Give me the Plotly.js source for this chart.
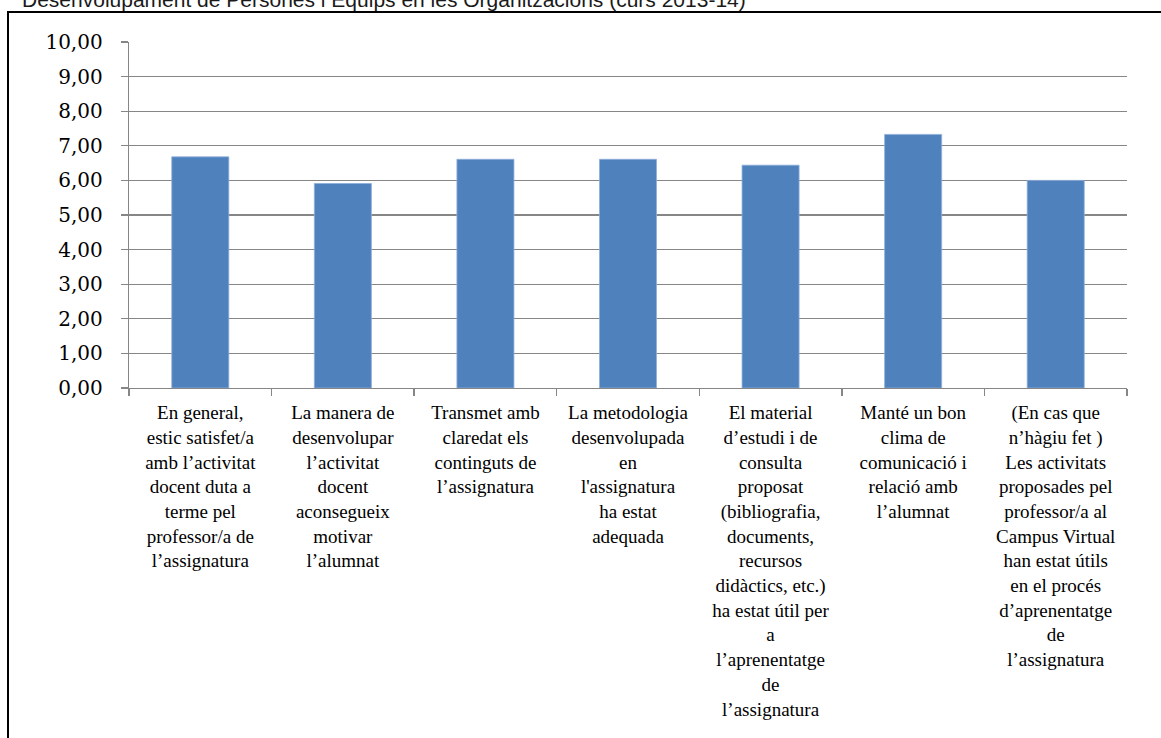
<!DOCTYPE html>
<html>
<head>
<meta charset="utf-8">
<script src="https://cdn.plot.ly/plotly-3.0.1.min.js"></script>
<style>
  html, body { margin: 0; padding: 0; background: #fff; }
  #wrap { position: relative; width: 1161px; height: 738px; overflow: hidden; }
  #chart { position: absolute; left: 0; top: 0; width: 1161px; height: 738px; }
  #frame { position: absolute; left: 7px; top: 11px; width: 1200px; height: 800px;
           border-left: 2px solid #000; border-top: 2px solid #000; pointer-events: none; }
</style>
</head>
<body>
<div id="wrap">
  <div id="chart"></div>
  <div id="frame"></div>
</div>
<script>
const chartTitle = "Desenvolupament de Persones i Equips en les Organitzacions (curs 2013-14)";

const categories = [
  "En general,<br>estic satisfet/a<br>amb l’activitat<br>docent duta a<br>terme pel<br>professor/a de<br>l’assignatura",
  "La manera de<br>desenvolupar<br>l’activitat<br>docent<br>aconsegueix<br>motivar<br>l’alumnat",
  "Transmet amb<br>claredat els<br>continguts de<br>l’assignatura",
  "La metodologia<br>desenvolupada<br>en<br>l'assignatura<br>ha estat<br>adequada",
  "El material<br>d’estudi i de<br>consulta<br>proposat<br>(bibliografia,<br>documents,<br>recursos<br>didàctics, etc.)<br>ha estat útil per<br>a<br>l’aprenentatge<br>de<br>l’assignatura",
  "Manté un bon<br>clima de<br>comunicació i<br>relació amb<br>l’alumnat",
  "(En cas que<br>n’hàgiu fet )<br>Les activitats<br>proposades pel<br>professor/a al<br>Campus Virtual<br>han estat útils<br>en el procés<br>d’aprenentatge<br>de<br>l’assignatura"
];

const scores = [6.68, 5.91, 6.61, 6.61, 6.44, 7.33, 6.00];

const yTickValues = [0, 1, 2, 3, 4, 5, 6, 7, 8, 9, 10];

const trace = {
  type: 'bar',
  x: categories,
  y: scores,
  marker: { color: '#4F81BD', line: { color: '#8EAEDB', width: 0.8 } },
  hoverinfo: 'skip'
};

const layout = {
  width: 1161,
  height: 738,
  margin: { l: 129, r: 34, t: 42, b: 350 },
  paper_bgcolor: '#ffffff',
  plot_bgcolor: '#ffffff',
  separators: ',.',
  showlegend: false,
  bargap: 0.6,
  title: {
    text: chartTitle,
    font: { family: 'Liberation Sans, Arial, sans-serif', size: 21, color: '#1a1a1a' },
    xref: 'container', x: 22 / 1161, xanchor: 'left',
    yref: 'container', y: 1, yanchor: 'middle'
  },
  xaxis: {
    type: 'category',
    showgrid: false,
    showline: true,
    linecolor: '#868686',
    linewidth: 1.3,
    ticks: 'outside',
    tickson: 'boundaries',
    ticklen: 7,
    tickwidth: 1.3,
    tickcolor: '#868686',
    tickangle: 0,
    ticklabelstandoff: 7,
    tickfont: { family: 'Liberation Serif, Times New Roman, serif', size: 19, color: '#000' },
    fixedrange: true
  },
  yaxis: {
    range: [0, 10],
    tickvals: yTickValues,
    tickformat: '.2f',
    showgrid: true,
    gridcolor: '#868686',
    gridwidth: 1.3,
    zeroline: false,
    showline: true,
    linecolor: '#868686',
    linewidth: 1.3,
    ticks: 'outside',
    ticklen: 7,
    tickwidth: 1.3,
    tickcolor: '#868686',
    ticklabelstandoff: 14,
    tickfont: { family: 'DejaVu Serif, serif', size: 20, color: '#000' },
    fixedrange: true
  }
};

Plotly.newPlot('chart', [trace], layout, { displayModeBar: false, staticPlot: true });
</script>
</body>
</html>
